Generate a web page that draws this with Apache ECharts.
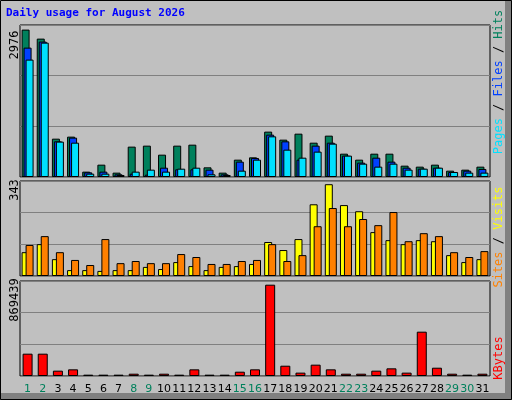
<!DOCTYPE html>
<html><head><meta charset="utf-8">
<script src="https://cdn.jsdelivr.net/npm/echarts@6/dist/echarts.min.js"></script>
<style>html,body{margin:0;padding:0;background:#c0c0c0}#c{width:512px;height:400px}</style>
</head><body><div id="c"></div>
<script>
const days = ['1','2','3','4','5','6','7','8','9','10','11','12','13','14','15','16','17','18','19','20','21','22','23','24','25','26','27','28','29','30','31'];
const weekend = ['1','2','8','9','15','16','22','23','29','30'];
const hits  = [2976,2794,774,815,108,249,88,613,633,451,633,653,195,88,350,397,916,754,875,693,835,471,350,471,471,229,209,249,128,148,209];
const files = [2612,2734,720,795,94,108,54,67,47,188,155,155,148,54,310,384,855,720,350,633,693,431,290,390,310,188,168,188,101,128,162];
const pages = [2370,2713,714,693,67,67,40,108,148,108,168,188,54,40,128,350,821,552,390,512,673,431,269,209,269,148,168,188,101,88,88];
const sites = [89,119,63,22,22,19,22,22,34,26,52,37,22,34,37,45,127,97,138,268,343,265,242,164,134,119,134,130,78,52,63];
const visits= [116,149,89,60,41,138,48,56,48,48,82,71,45,45,56,60,119,56,78,186,254,186,213,190,239,130,160,149,89,71,93];
const kbytes= [212600,212600,50800,63500,12700,12700,12700,22000,12700,22000,12700,63500,12700,12700,41000,63500,869439,98000,32000,108000,63500,22000,22000,50800,73000,32000,422000,79000,22000,12700,22000];
const maxLabels = ['2976','343','869439'];

const M1 = 3069, M2 = 355, M3 = 904700;
const grids = [
  {left:20,right:22,top:25,height:152},
  {left:20,right:22,top:181,height:95},
  {left:20,right:22,top:281,height:95}
];
const yAx = (i,M)=>({gridIndex:i,min:0,max:M,interval:M/3,axisLabel:{show:false},axisLine:{show:false},axisTick:{show:false},splitLine:{lineStyle:{color:'#808080',width:1}}});
const xAx = (i,lab)=>({gridIndex:i,type:'category',data:days,axisLine:{show:false},axisTick:{show:false},
  axisLabel:{show:lab,interval:0,fontFamily:'DejaVu Sans',fontSize:11,margin:8,color:(v)=>weekend.includes(v)?'#00805c':'#000'}});
const bs = {borderColor:'#000',borderWidth:1};
const bar=(name,data,color,xi,w,gap)=>({name,type:'bar',data,xAxisIndex:xi,yAxisIndex:xi,barWidth:w,barGap:gap,itemStyle:Object.assign({color},bs),animation:false});

const rotT=(x,y,text,rich)=>({type:'text',x,y,rotation:Math.PI/2,style:{text,rich,fill:'#000',font:'12px "DejaVu Sans Mono"',align:'center',verticalAlign:'middle'}});
const chart = echarts.init(document.getElementById('c'));
chart.setOption({
  backgroundColor:'#c0c0c0',
  animation:false,
  grid:grids.map(g=>Object.assign({show:true,borderColor:'#000',borderWidth:1,backgroundColor:'#c0c0c0'},g)),
  xAxis:[xAx(0,false),xAx(1,false),xAx(2,true)],
  yAxis:[yAx(0,M1),yAx(1,M2),yAx(2,M3)],
  series:[
    bar('Hits',hits,'#00805c',0,8,'-75%'),
    bar('Files',files,'#0040ff',0,8,'-75%'),
    bar('Pages',pages,'#00e0ff',0,8,'-75%'),
    bar('Sites',sites,'#ffff00',1,8,'-50%'),
    bar('Visits',visits,'#ff8000',1,8,'-50%'),
    bar('KBytes',kbytes,'#ff0000',2,10,'0%')
  ],
  graphic:[
    {type:'polyline',shape:{points:[[0.5,399.5],[0.5,0.5],[511.5,0.5]]},style:{stroke:'#fff',lineWidth:1,fill:null}},
    {type:'rect',shape:{x:505,y:0,width:7,height:400},style:{fill:'#808080'}},
    {type:'rect',shape:{x:0,y:393,width:512,height:7},style:{fill:'#808080'}},
    {type:'rect',shape:{x:0.5,y:0.5,width:511,height:399},style:{fill:null,stroke:'#000',lineWidth:1}},
    {type:'text',x:6,y:13,style:{text:'Daily usage for August 2026',fill:'#0000ff',font:'bold 11px "DejaVu Sans Mono"',verticalAlign:'middle'}},
    rotT(15,45,maxLabels[0]),
    rotT(15,190,maxLabels[1]),
    rotT(15,300,maxLabels[2]),
    rotT(499,82,'{p|Pages}{s| / }{f|Files}{s| / }{h|Hits}',{p:{fill:'#00e0ff'},f:{fill:'#0040ff'},h:{fill:'#00805c'},s:{fill:'#000'}}),
    rotT(499,237,'{a|Sites}{s| / }{b|Visits}',{a:{fill:'#ff8000'},b:{fill:'#ffff00'},s:{fill:'#000'}}),
    rotT(499,358,'{k|KBytes}',{k:{fill:'#ff0000'}})
  ]
});
</script></body></html>
